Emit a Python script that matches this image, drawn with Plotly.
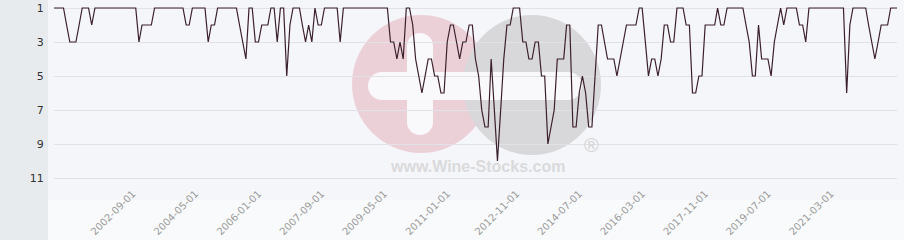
import pandas as pd
import plotly.graph_objects as go

# ---- data (monthly ranking, lower is better) ----
start_month = "2000-08-01"
rank = [
    1, 1, 1, 1, 2, 3, 3, 3, 2, 1,
    1, 1, 2, 1, 1, 1, 1, 1, 1, 1,
    1, 1, 1, 1, 1, 1, 1, 3, 2, 2,
    2, 2, 1, 1, 1, 1, 1, 1, 1, 1,
    1, 1, 2, 2, 1, 1, 1, 1, 1, 3,
    2, 2, 1, 1, 1, 1, 1, 1, 1, 2,
    3, 4, 1, 1, 3, 3, 2, 2, 2, 1,
    1, 3, 1, 1, 5, 2, 1, 1, 1, 2,
    3, 2, 3, 1, 2, 2, 1, 1, 1, 1,
    1, 3, 1, 1, 1, 1, 1, 1, 1, 1,
    1, 1, 1, 1, 1, 1, 1, 3, 3, 4,
    3, 4, 1, 1, 2, 4, 5, 6, 5, 4,
    4, 5, 5, 6, 6, 3, 2, 2, 3, 4,
    3, 3, 2, 2, 4, 5, 7, 8, 8, 4,
    7, 10, 7, 4, 2, 2, 1, 1, 1, 3,
    3, 4, 4, 3, 3, 5, 5, 9, 8, 7,
    4, 4, 4, 2, 2, 8, 8, 6, 5, 6,
    8, 8, 5, 2, 2, 3, 4, 4, 4, 5,
    4, 3, 2, 2, 2, 2, 1, 1, 3, 5,
    4, 4, 5, 4, 2, 2, 3, 3, 1, 1,
    1, 2, 2, 6, 6, 5, 5, 2, 2, 2,
    2, 1, 2, 2, 1, 1, 1, 1, 1, 1,
    2, 3, 5, 5, 2, 4, 4, 4, 5, 3,
    2, 1, 2, 1, 1, 1, 1, 2, 2, 3,
    1, 1, 1, 1, 1, 1, 1, 1, 1, 1,
    1, 1, 6, 2, 1, 1, 1, 1, 1, 2,
    3, 4, 3, 2, 2, 2, 1, 1, 1,
]
x_tick_labels = ["2002-09-01", "2004-05-01", "2006-01-01", "2007-09-01",
                 "2009-05-01", "2011-01-01", "2012-11-01", "2014-07-01",
                 "2016-03-01", "2017-11-01", "2019-07-01", "2021-03-01"]
y_tick_values = [1, 3, 5, 7, 9, 11]

dates = pd.date_range(start_month, periods=len(rank), freq="MS")

W, H = 904, 240
ML, MR, MT, MB = 54, 7, 0, 55
PW, PH = W - ML - MR, H - MT - MB


def px(x):
    return (x - ML) / PW


def py(y):
    return (MT + PH - y) / PH


fig = go.Figure()
fig.add_trace(go.Scatter(
    x=dates, y=rank, mode="lines",
    line=dict(color="#3b1f2b", width=1.2),
    hoverinfo="skip", showlegend=False,
))

shapes = []
# left grey panel
shapes.append(dict(type="rect", xref="paper", yref="paper",
                   x0=px(0), x1=px(48), y0=py(H), y1=py(0),
                   fillcolor="#e8ebee", line=dict(width=0), layer="below"))
# lighter band under the plot
shapes.append(dict(type="rect", xref="paper", yref="paper",
                   x0=px(48), x1=px(W), y0=py(H), y1=py(200),
                   fillcolor="#f9fafb", line=dict(width=0), layer="below"))
# watermark logo
shapes.append(dict(type="circle", xref="paper", yref="paper",
                   x0=px(352), x1=px(490), y0=py(153), y1=py(15),
                   fillcolor="#ecd0d7", line=dict(width=0), layer="below"))
shapes.append(dict(type="circle", xref="paper", yref="paper",
                   x0=px(463), x1=px(601), y0=py(155), y1=py(15),
                   fillcolor="#d8d8db", line=dict(width=0), layer="below"))
WH = "#f9f9fb"
# vertical arm of plus
shapes.append(dict(type="rect", xref="paper", yref="paper",
                   x0=px(407), x1=px(433), y0=py(122), y1=py(46),
                   fillcolor=WH, line=dict(width=0), layer="below"))
shapes.append(dict(type="circle", xref="paper", yref="paper",
                   x0=px(407), x1=px(433), y0=py(135), y1=py(109),
                   fillcolor=WH, line=dict(width=0), layer="below"))
shapes.append(dict(type="circle", xref="paper", yref="paper",
                   x0=px(407), x1=px(433), y0=py(59), y1=py(33),
                   fillcolor=WH, line=dict(width=0), layer="below"))
# horizontal pill
shapes.append(dict(type="rect", xref="paper", yref="paper",
                   x0=px(382), x1=px(568), y0=py(100), y1=py(72),
                   fillcolor=WH, line=dict(width=0), layer="below"))
shapes.append(dict(type="circle", xref="paper", yref="paper",
                   x0=px(368), x1=px(396), y0=py(100), y1=py(72),
                   fillcolor=WH, line=dict(width=0), layer="below"))
shapes.append(dict(type="circle", xref="paper", yref="paper",
                   x0=px(554), x1=px(582), y0=py(100), y1=py(72),
                   fillcolor=WH, line=dict(width=0), layer="below"))

annotations = [
    dict(text="<b>www.Wine-Stocks.com</b>", xref="paper", yref="paper",
         x=px(477), y=py(166), xanchor="center", yanchor="middle",
         showarrow=False,
         font=dict(family="Liberation Sans", size=16, color="#dadadc")),
    dict(text="®", xref="paper", yref="paper",
         x=px(591), y=py(145), xanchor="center", yanchor="middle",
         showarrow=False,
         font=dict(family="Liberation Sans", size=20, color="#d4d4d6")),
]

y_top = 1 - (8 - MT) / 17.0
y_bot = 1 + (MT + PH - 8) / 17.0

fig.update_layout(
    width=W, height=H,
    margin=dict(l=ML, r=MR, t=MT, b=MB, pad=0, autoexpand=False),
    paper_bgcolor="#f5f6f9",
    plot_bgcolor="rgba(0,0,0,0)",
    shapes=shapes,
    annotations=annotations,
    font=dict(family="DejaVu Sans"),
    xaxis=dict(
        type="date",
        automargin=False,
        range=[dates[0], dates[-1]],
        tickmode="array",
        tickvals=pd.to_datetime(x_tick_labels),
        ticktext=x_tick_labels,
        tickangle=-45,
        tickfont=dict(size=10, color="#9a9a9a", family="DejaVu Sans"),
        showgrid=False, zeroline=False, showline=False,
        ticks="", ticklen=0,
    ),
    yaxis=dict(
        automargin=False,
        range=[y_bot, y_top],
        tickmode="array",
        tickvals=y_tick_values,
        tickfont=dict(size=11, color="#333333", family="DejaVu Sans"),
        showgrid=True, gridcolor="#e1e1e7", gridwidth=1,
        zeroline=False, showline=False,
        ticks="outside", ticklen=7, tickcolor="rgba(0,0,0,0)",
    ),
)

fig.write_html("out.html")
